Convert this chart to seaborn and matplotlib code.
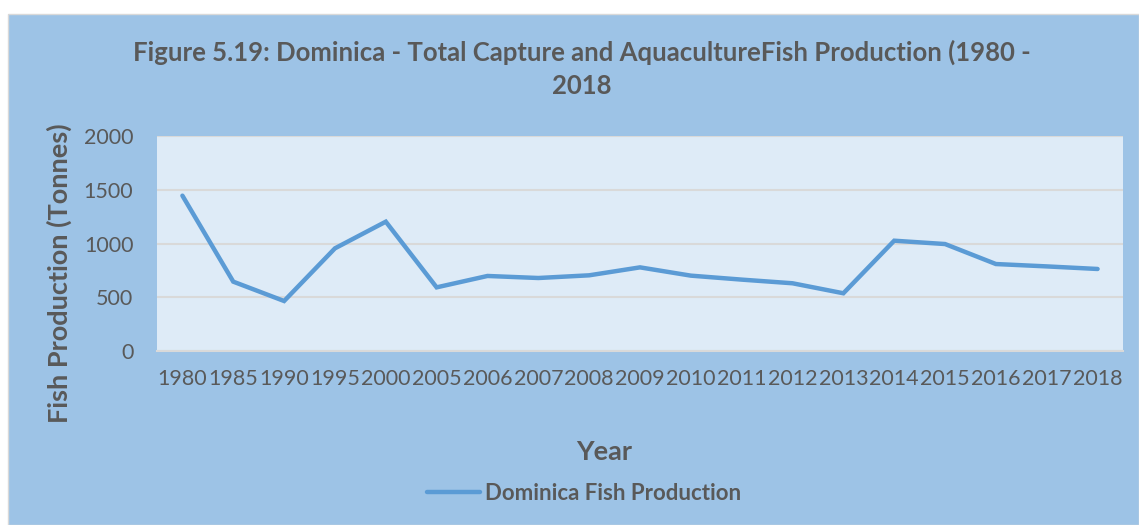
import matplotlib
matplotlib.use("Agg")
import matplotlib.pyplot as plt
import seaborn as sns
import pandas as pd
from matplotlib.patches import Rectangle

years = ["1980", "1985", "1990", "1995", "2000", "2005", "2006", "2007", "2008", "2009",
         "2010", "2011", "2012", "2013", "2014", "2015", "2016", "2017", "2018"]
production = [1445, 645, 465, 955, 1203, 592, 698, 679, 704, 778,
              701, 664, 630, 537, 1026, 995, 809, 787, 763]
series_name = "Dominica Fish Production"
yticks = [0, 500, 1000, 1500, 2000]

sns.set_theme(style="white")
plt.rcParams['font.family'] = ['Lato', 'DejaVu Sans']

df = pd.DataFrame({"Year": years, "Production": production, "Series": series_name})

W, H = 1139, 525
fig = plt.figure(figsize=(W / 100, H / 100), dpi=100)
fig.patch.set_facecolor("white")
fig.patches.append(Rectangle((8 / W, 0), 1 - 8 / W, 1 - 14 / H, transform=fig.transFigure,
                             facecolor="#9DC3E6", edgecolor="#D9D9D9", linewidth=1, zorder=-5))

ax = fig.add_axes([157 / W, 1 - 351 / H, 966 / W, 215 / H])
ax.set_zorder(2)
ax.set_facecolor("#DEEBF7")
sns.lineplot(data=df, x="Year", y="Production", hue="Series", palette=["#5B9BD5"],
             linewidth=3.2, ax=ax, sort=False, legend=True)
for l in ax.get_lines():
    l.set_solid_capstyle("round")
    l.set_solid_joinstyle("miter")

ax.set_xlim(-0.5, len(years) - 0.5)
ax.set_ylim(0, 2000)
ax.set_yticks(yticks)
ax.yaxis.grid(True, color="#D9D9D9", linewidth=1.5)
ax.set_axisbelow(True)
for s in ["top", "right", "left"]:
    ax.spines[s].set_visible(False)
ax.spines["bottom"].set_color("#D9D9D9")
ax.spines["bottom"].set_linewidth(1.5)
ax.tick_params(axis="both", length=0, labelsize=15.5, colors="#595959")
ax.tick_params(axis="x", pad=13)
ax.tick_params(axis="y", pad=17)

ax.set_xlabel("Year", fontsize=19.5, fontweight="bold", color="#595959")
ax.set_ylabel("Fish Production (Tonnes)", fontsize=19.5, fontweight="bold", color="#595959")
ax.yaxis.set_label_coords((59 - 157) / 966, (351 - 273) / 215)
ax.xaxis.set_label_coords((604 - 157) / 966, -(452 - 351) / 215)
ax.xaxis.label.set_va("center")
ax.yaxis.label.set_va("center")

fig.text(582 / W, 1 - 69 / H,
         "Figure 5.19: Dominica - Total Capture and AquacultureFish Production (1980 -\n2018",
         ha="center", va="center", fontsize=18.5, fontweight="bold", color="#595959", linespacing=1.45)

leg = ax.legend(loc="center", bbox_to_anchor=((584 - 157) / 966, -(493 - 351) / 215),
                frameon=False, fontsize=16, handlelength=2.4, handletextpad=0.2)
for t in leg.get_texts():
    t.set_color("#595959")
    t.set_fontweight("bold")

fig.savefig("out.png", dpi=100, facecolor=fig.get_facecolor())
